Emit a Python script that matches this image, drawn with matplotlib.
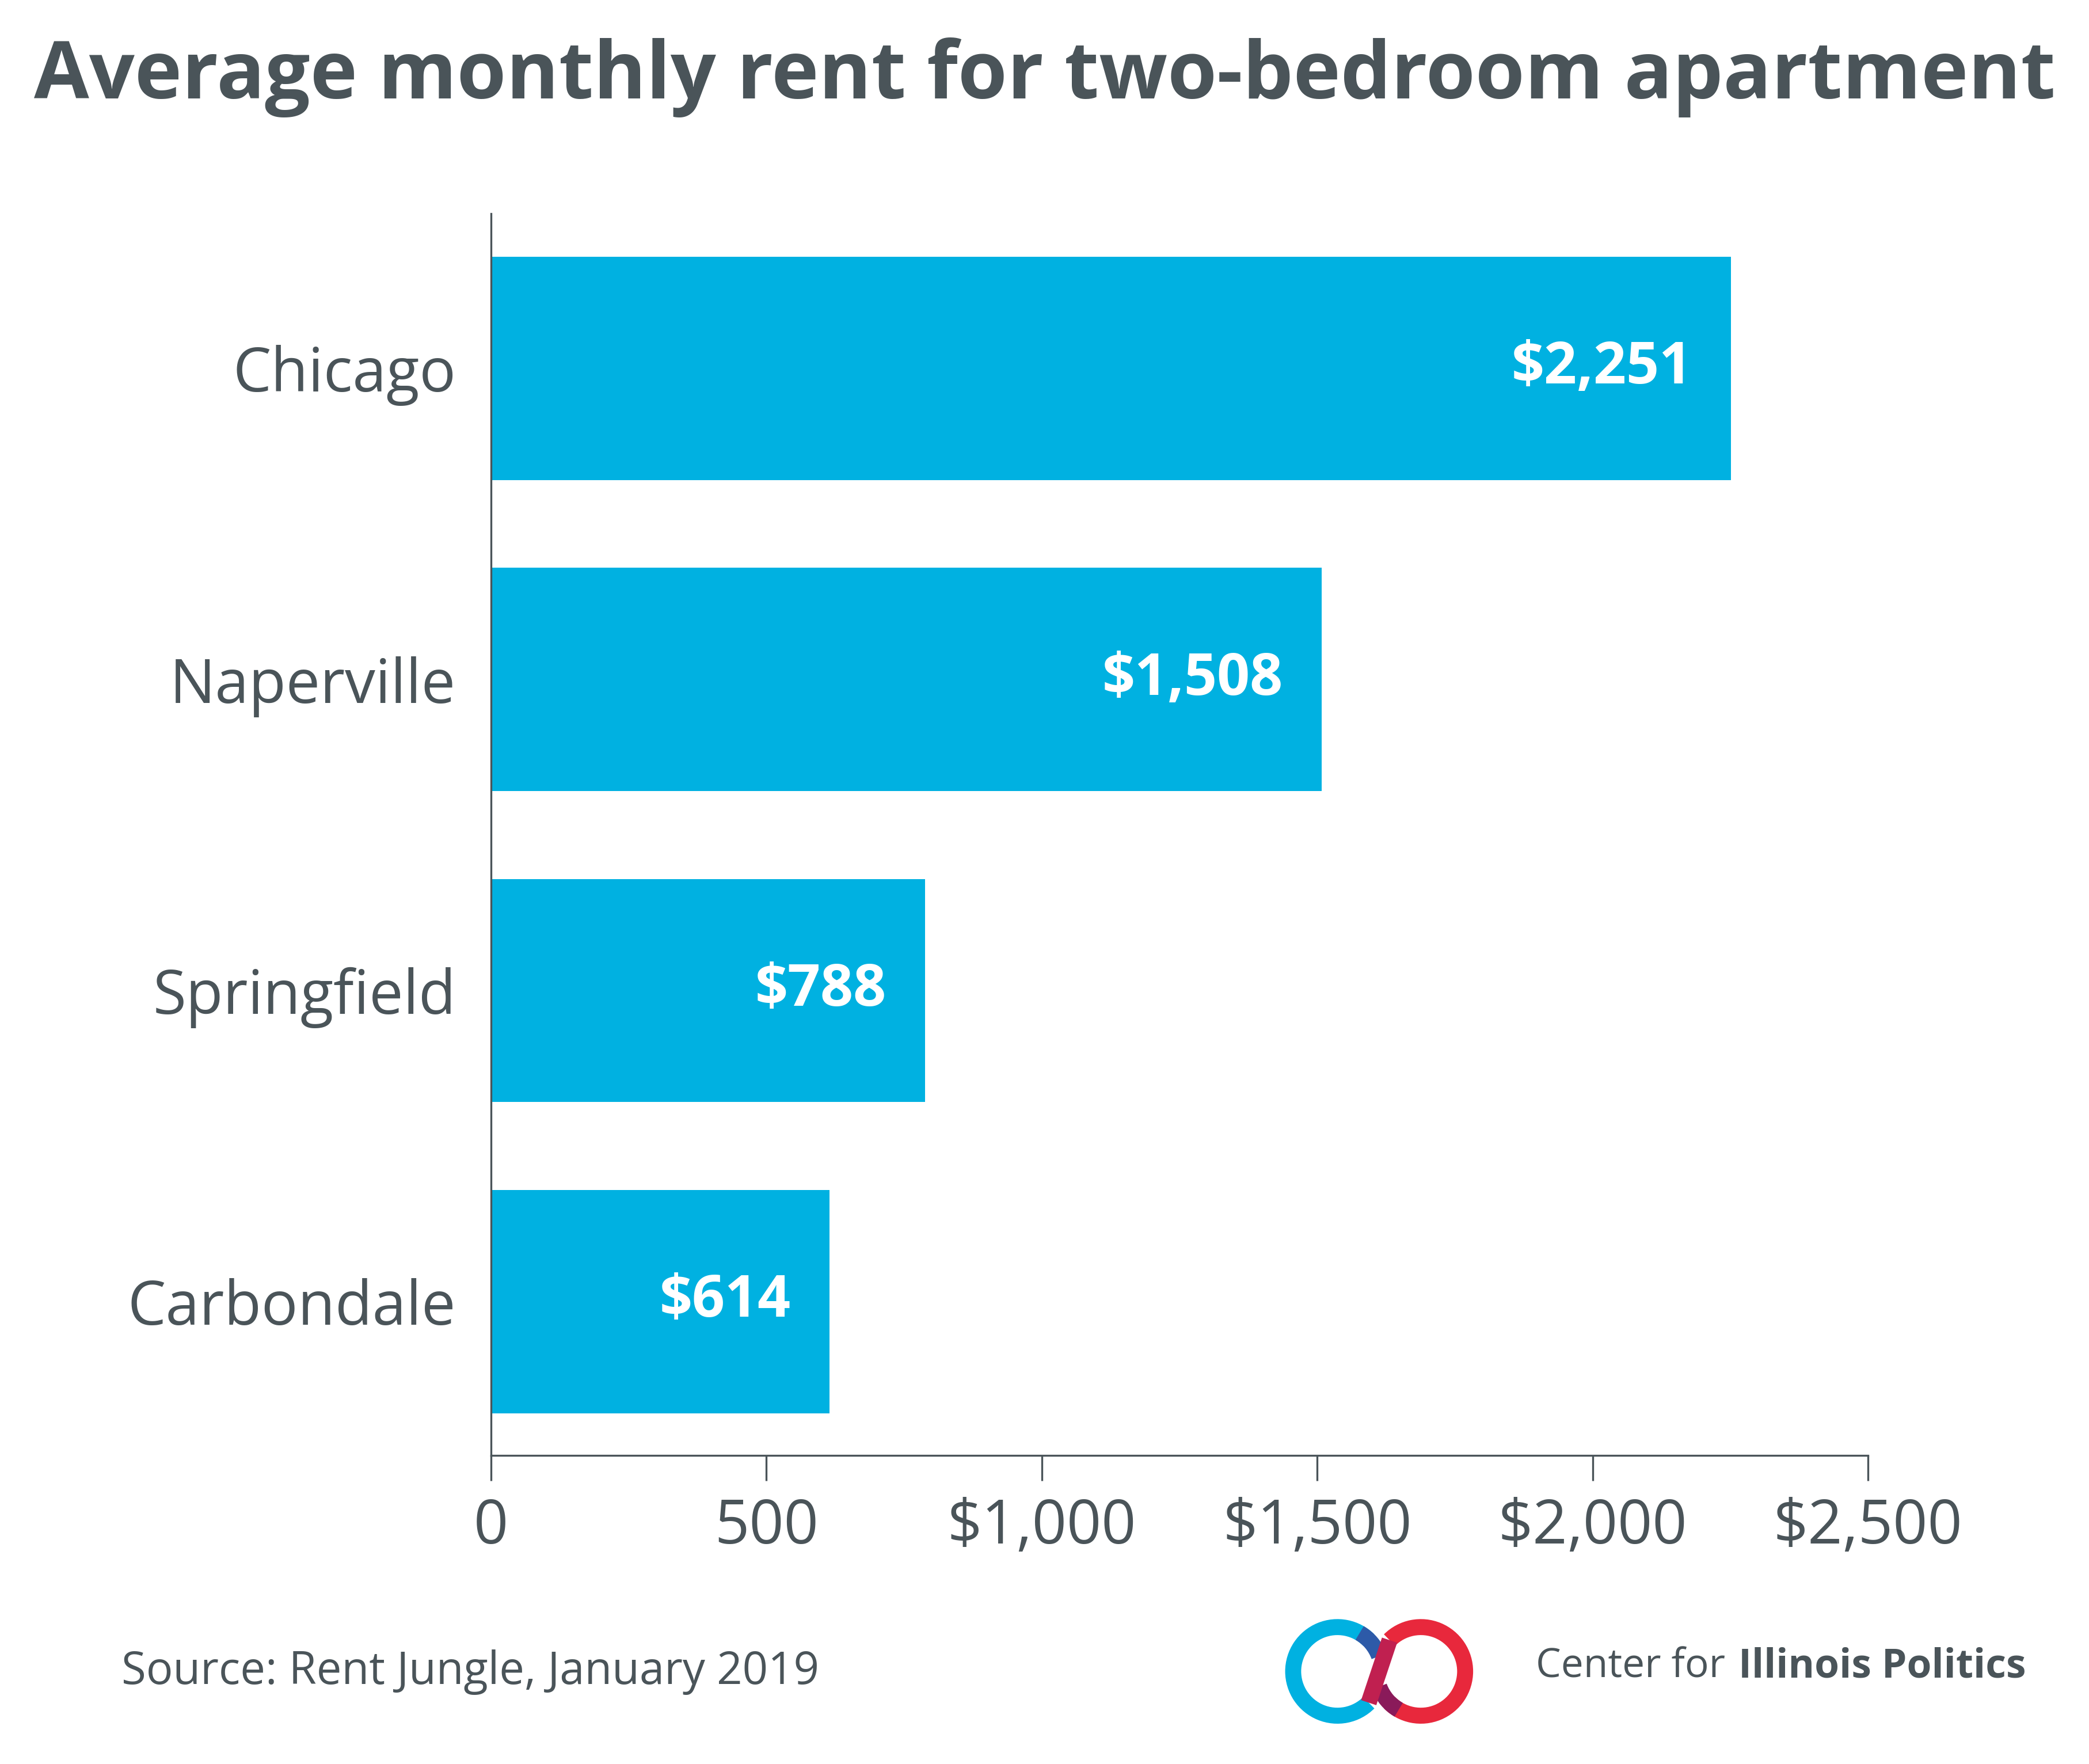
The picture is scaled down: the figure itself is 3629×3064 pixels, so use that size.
import matplotlib.pyplot as plt
from matplotlib.patches import Arc

cities = ["Chicago", "Naperville", "Springfield", "Carbondale"]
rents = [2251, 1508, 788, 614]
rent_labels = ["$2,251", "$1,508", "$788", "$614"]
tick_values = [0, 500, 1000, 1500, 2000, 2500]
tick_labels = ["0", "500", "$1,000", "$1,500", "$2,000", "$2,500"]

gray = "#4a5459"
blue = "#00b1e1"
font = "Open Sans"

fig = plt.figure(figsize=(18.15, 15.32), dpi=200)
ax = fig.add_axes([0.235, 0.175, 0.659, 0.704])

ypos = list(range(len(cities)))[::-1]
ax.barh(ypos, rents, height=0.717, color=blue)
for y, v, lab in zip(ypos, rents, rent_labels):
    ax.text(v - 70, y, lab, ha="right", va="center", color="white",
            fontsize=36, fontweight="bold", family=font)

ax.set_xlim(0, 2500)
ax.set_ylim(-0.494, 3.498)
ax.set_yticks(ypos)
ax.set_yticklabels(cities, fontsize=38, color=gray, family=font)
ax.set_xticks(tick_values)
ax.set_xticklabels(tick_labels, fontsize=38, color=gray, family=font)
ax.tick_params(axis="y", length=0, pad=22)
ax.tick_params(axis="x", length=16, width=1.2, color=gray, pad=10)
for s in ["top", "right"]:
    ax.spines[s].set_visible(False)
for s in ["left", "bottom"]:
    ax.spines[s].set_color(gray)
    ax.spines[s].set_linewidth(1.2)

fig.text(0.5, 0.956, "Average monthly rent for two-bedroom apartment",
         ha="center", va="center", fontsize=50, fontweight="bold",
         color=gray, family=font)
fig.text(0.058, 0.052, "Source: Rent Jungle, January 2019", ha="left",
         va="center", fontsize=28, color=gray, family=font)

# logo
lax = fig.add_axes([0.605, 0.02, 0.12, 0.065])
lax.set_xlim(0, 2.2)
lax.set_ylim(-0.55, 0.55)
lax.set_aspect("equal")
lax.axis("off")
lax.add_patch(Arc((0.6, 0), 0.85, 0.85, theta1=45, theta2=315, color=blue, lw=10))
lax.add_patch(Arc((0.6, 0), 0.85, 0.85, theta1=20, theta2=60, color="#2d5aa8", lw=10))
lax.add_patch(Arc((1.4, 0), 0.85, 0.85, theta1=-135, theta2=135, color="#e8283c", lw=10))
lax.add_patch(Arc((1.4, 0), 0.85, 0.85, theta1=200, theta2=240, color="#8a1a5a", lw=10))
lax.plot([0.9, 1.1], [-0.3, 0.3], color="#c02050", lw=10, solid_capstyle="butt")

fig.text(0.735, 0.055, "Center for", ha="left", va="center", fontsize=25,
         color=gray, family=font)
fig.text(0.832, 0.055, "Illinois Politics", ha="left", va="center",
         fontsize=25, fontweight="bold", color=gray, family=font)

fig.savefig("out.png", dpi=200, facecolor="white")
